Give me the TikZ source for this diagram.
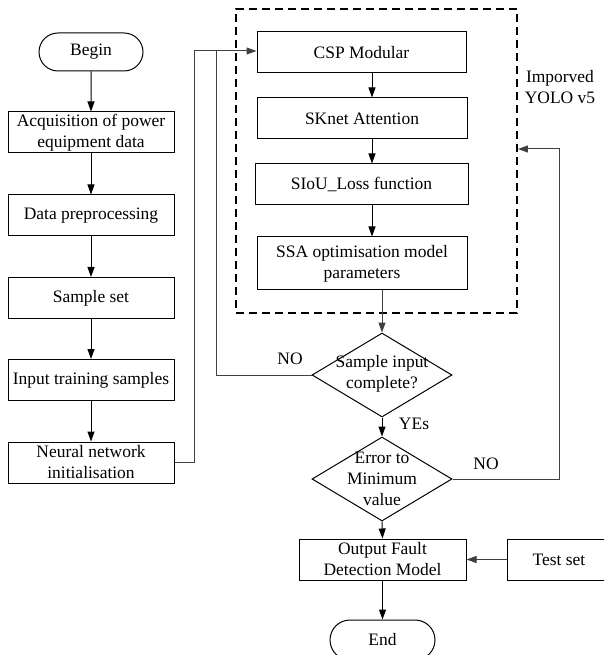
\documentclass[tikz,border=0pt]{standalone}
\usepackage{fontspec}
\setmainfont{Liberation Serif}
\usetikzlibrary{arrows.meta,shapes.misc,shapes.geometric}
\tikzset{
  txt/.style={font=\fontsize{13.1}{15.75}\selectfont, align=center},
  box/.style={txt, draw=black, line width=0.75pt, inner sep=0pt, minimum height=41*0.75pt},
  term/.style={txt, draw=black, line width=0.75pt, rounded rectangle, inner sep=0pt},
  diam/.style={draw=black, line width=0.75pt, diamond, inner sep=0pt, minimum width=140*0.75pt, minimum height=84*0.75pt},
  arr/.style={line width=0.75pt, -{Triangle[length=10*0.75pt,width=7*0.75pt]}},
  lin/.style={line width=0.75pt, draw=black!75},
  grp/.style={draw=black, line width=1.4pt, dash pattern=on 8*0.75pt off 5*0.75pt, inner sep=0pt}
}
\begin{document}
\begin{tikzpicture}[x=0.75pt,y=-0.75pt]
\useasboundingbox (0,0) rectangle (604,655);
\clip (0,0) rectangle (604,655);
% left column
\node[term, minimum width=104*0.75pt, minimum height=38*0.75pt] (begin) at (91,52) {Begin};
\node[box, minimum width=166*0.75pt] (acq) at (91,132.5) {Acquisition of power\\equipment data};
\node[box, minimum width=166*0.75pt] (prep) at (91,215.5) {Data preprocessing};
\node[box, minimum width=166*0.75pt] (sample) at (91,298) {Sample set};
\node[box, minimum width=166*0.75pt] (input) at (91,380) {Input training samples};
\node[box, minimum width=166*0.75pt] (neural) at (91,462.5) {Neural network\\initialisation};
% dashed group
\node[grp, minimum width=281*0.75pt, minimum height=304*0.75pt] (yolo) at (376.5,161) {};
\node[txt] (ylabel) at (560,87) {Imporved\\YOLO v5};
\node[box, minimum width=209*0.75pt] (csp) at (361.5,52.5) {CSP Modular};
\node[box, minimum width=210*0.75pt] (sknet) at (362,118.5) {SKnet Attention};
\node[box, minimum width=213*0.75pt] (siou) at (361.5,184.5) {SIoU\_Loss function};
\node[box, minimum width=210*0.75pt, minimum height=53*0.75pt] (ssa) at (362,263.5) {SSA optimisation model\\parameters};
% decisions
\node[diam] (d1) at (382,375) {};
\node[txt] (d1t) at (382,374) {Sample input\\complete?};
\node[diam] (d2) at (382,479) {};
\node[txt] (d2t) at (382,479) {Error to\\Minimum\\value};
\node[box, minimum width=167*0.75pt] (out) at (382.5,559.5) {Output Fault\\Detection Model};
\node[box, minimum width=104*0.75pt] (test) at (559,559.5) {Test set};
\node[term, minimum width=105*0.75pt, minimum height=40*0.75pt] (end) at (382.5,640) {End};
% labels
\node[txt] (no1) at (290,359) {NO};
\node[txt] (yes) at (414,424) {YEs};
\node[txt] (no2) at (486,464) {NO};
% coordinates
\coordinate (c1) at (194,51);
\coordinate (c2) at (216,51);
\coordinate (c3) at (559,149);
\coordinate (ax) at (372,0);
% left arrows
\draw[arr] (begin) -- (acq);
\draw[arr] (acq) -- (prep);
\draw[arr] (prep) -- (sample);
\draw[arr] (sample) -- (input);
\draw[arr] (input) -- (neural);
\draw[lin, arr] (neural.east) -| (c1) -- (csp.west |- c1);
\draw[lin] (d1.west) -| (c2);
% group arrows
\draw[arr] (csp.south -| ax) -- (sknet.north -| ax);
\draw[arr] (sknet.south -| ax) -- (siou.north -| ax);
\draw[arr] (siou.south -| ax) -- (ssa.north -| ax);
\draw[lin, arr] (ssa.south -| d1) -- (d1.north);
\draw[arr] (d1.south) -- (d2.north);
\draw[lin, arr] (d2.east) -| (c3) -- (yolo.east |- c3);
\draw[arr] (d2.south) -- (out.north);
\draw[lin, arr] (test.west) -- (out.east);
\draw[arr] (out.south) -- (end.north);
\end{tikzpicture}
\end{document}
